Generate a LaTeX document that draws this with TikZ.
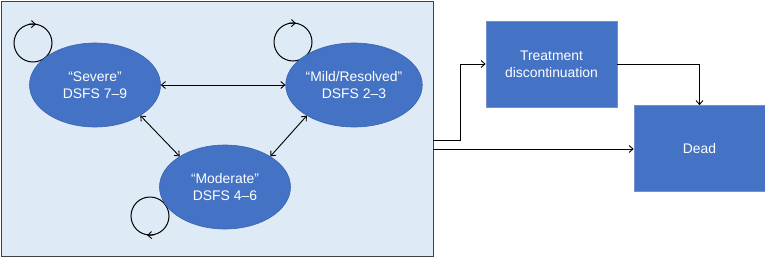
\documentclass[tikz,border=0pt]{standalone}
\usepackage{fontspec}
\setmainfont{Liberation Sans}
\usetikzlibrary{arrows.meta,shapes.geometric}
\definecolor{bluefill}{HTML}{4472C4}
\definecolor{blueedge}{HTML}{3A64B0}
\definecolor{panel}{HTML}{DEEAF6}
\tikzset{
  state/.style={ellipse, fill=bluefill, draw=blueedge, line width=0.6pt, minimum width=131pt, minimum height=84pt, inner sep=0pt, text=white, align=center, font=\fontsize{13.9}{17}\selectfont},
  boxnode/.style={rectangle, fill=bluefill, draw=blueedge!70!white, line width=0.6pt, minimum width=131pt, minimum height=86pt, inner sep=0pt, text=white, align=center, font=\fontsize{13.9}{17}\selectfont},
  conn/.style={draw=black, line width=0.9pt, -{Straight Barb[length=4pt,width=7pt]}},
  bconn/.style={draw=black, line width=0.9pt, {Straight Barb[length=4pt,width=7pt]}-{Straight Barb[length=4pt,width=7pt]}},
  loopc/.style={draw=black, line width=1pt}
}
\begin{document}
\begin{tikzpicture}[x=1pt,y=-1pt]
\useasboundingbox (0,0) rectangle (765,257);
\node[draw=black!75, fill=panel, line width=1pt, minimum width=432pt, minimum height=255pt, inner sep=0pt, anchor=north west] (panelbox) at (0.5,0.5) {};
% self loops
\draw[loopc] (33,43) circle (19);
\draw[loopc] (293,42) circle (19);
\draw[loopc] (150,216) circle (19);
\coordinate (la1) at (29,24); \coordinate (la1e) at (36,24.2);
\coordinate (la2) at (289,23); \coordinate (la2e) at (296,23.2);
\coordinate (la3) at (154,235); \coordinate (la3e) at (147,235.2);
\draw[conn] (la1) -- (la1e);
\draw[conn] (la2) -- (la2e);
\draw[conn] (la3) -- (la3e);
% states
\node[state] (sev) at (95,85) {“Severe”\\DSFS 7–9};
\node[state] (mild) at (354,85) {“Mild/Resolved”\\DSFS 2–3};
\node[state] (mod) at (225,187) {“Moderate”\\DSFS 4–6};
\draw[bconn] (sev) -- (mild);
\draw[bconn] (sev.-34) -- (mod.146);
\draw[bconn] (mild.213) -- (mod.34);
% right side
\node[boxnode] (treat) at (551.5,64) {Treatment\\discontinuation};
\node[boxnode] (dead) at (699.5,148.5) {Dead};
\coordinate (o1) at (433,140);
\coordinate (o2) at (433,149);
\draw[conn] (o1) -- (460,140) |- (treat.west);
\draw[conn] (o2) -- (o2 -| dead.west);
\draw[conn] (treat.east) -| (dead.north);
\end{tikzpicture}
\end{document}
